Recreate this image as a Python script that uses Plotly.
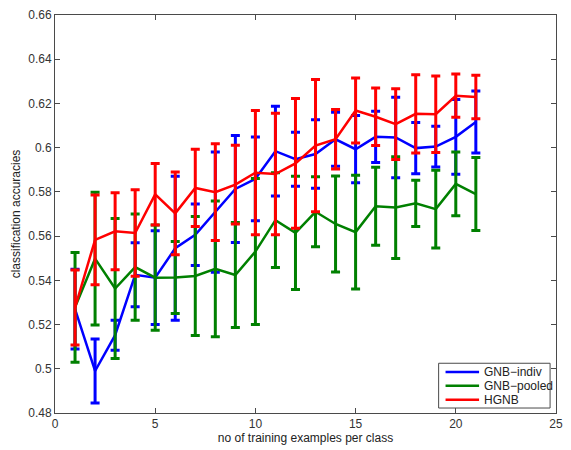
import plotly.graph_objects as go

# training examples per class
x_vals = list(range(1, 22))

# mean classification accuracy and standard deviation per method
gnb_indiv_mean = [0.527, 0.499, 0.5152, 0.5425, 0.5412, 0.5545, 0.5606, 0.5708, 0.5813, 0.5859, 0.5984,
                  0.5948, 0.5971, 0.6038, 0.5993, 0.6049, 0.6046, 0.5998, 0.6005, 0.6049, 0.6116]
gnb_indiv_std = [0.018, 0.0145, 0.0068, 0.0145, 0.0212, 0.0326, 0.0139, 0.0272, 0.0242, 0.0189, 0.0203,
                 0.0122, 0.0155, 0.0122, 0.0152, 0.0116, 0.0182, 0.0116, 0.0092, 0.0169, 0.014]

gnb_pooled_mean = [0.5278, 0.5498, 0.5363, 0.546, 0.5412, 0.5413, 0.542, 0.5452, 0.5424, 0.553, 0.5672,
                   0.5615, 0.571, 0.5655, 0.5618, 0.5735, 0.5729, 0.5748, 0.5722, 0.5836, 0.579]
gnb_pooled_std = [0.0248, 0.030, 0.0317, 0.024, 0.0238, 0.0163, 0.0269, 0.0307, 0.0237, 0.033, 0.0214,
                  0.0256, 0.0158, 0.0217, 0.0257, 0.0176, 0.023, 0.0105, 0.0176, 0.0144, 0.0165]

hgnb_mean = [0.5277, 0.5583, 0.5622, 0.5614, 0.5789, 0.5703, 0.5818, 0.5799, 0.5833, 0.5887, 0.5881,
             0.5929, 0.6009, 0.6038, 0.6168, 0.614, 0.6106, 0.6153, 0.6151, 0.6235, 0.6229]
hgnb_std = [0.017, 0.0203, 0.0174, 0.0196, 0.0139, 0.0187, 0.0175, 0.0219, 0.0178, 0.0281, 0.0275,
            0.0293, 0.0299, 0.0135, 0.0147, 0.013, 0.016, 0.0177, 0.0173, 0.0098, 0.0098]

x_ticks = [0, 5, 10, 15, 20, 25]
x_tick_labels = ["0", "5", "10", "15", "20", "25"]
y_ticks = [0.48, 0.50, 0.52, 0.54, 0.56, 0.58, 0.60, 0.62, 0.64, 0.66]
y_tick_labels = ["0.48", "0.5", "0.52", "0.54", "0.56", "0.58", "0.6", "0.62", "0.64", "0.66"]

series_names = ["GNB\u2212indiv", "GNB\u2212pooled", "HGNB"]
series_means = [gnb_indiv_mean, gnb_pooled_mean, hgnb_mean]
series_stds = [gnb_indiv_std, gnb_pooled_std, hgnb_std]
series_colors = ["#0000ff", "#008000", "#ff0000"]

FONT = "Liberation Sans, Arial, Helvetica, sans-serif"
AXIS_COLOR = "#4a4a4a"
FS = 12

# plot area in pixels, used to place the legend box in paper coordinates
W, H = 571, 450
ML, MR, MT, MB = 55, 8, 14, 36
PW, PH = W - ML - MR, H - MT - MB


def px_x(px):
    return (px - ML) / PW


def px_y(py):
    return (H - MB - py) / PH


fig = go.Figure()
for name, mean, std, color in zip(series_names, series_means, series_stds, series_colors):
    fig.add_trace(go.Scatter(
        x=x_vals, y=mean, name=name, mode="lines",
        line=dict(color=color, width=2.5),
        error_y=dict(type="data", array=std, visible=True,
                     color=color, thickness=3, width=4.5),
    ))

axis_common = dict(
    showline=True, linecolor=AXIS_COLOR, linewidth=1, mirror="ticks",
    ticks="inside", ticklen=5, tickcolor=AXIS_COLOR, tickwidth=1,
    showgrid=False, zeroline=False,
    tickfont=dict(family=FONT, size=FS, color="#333333"),
)

fig.update_xaxes(
    range=[0, 25], tickvals=x_ticks, ticktext=x_tick_labels,
    title=dict(text="no of training examples per class", standoff=2,
               font=dict(family=FONT, size=FS, color="#222222")),
    **axis_common,
)
fig.update_yaxes(
    range=[0.48, 0.66], tickvals=y_ticks, ticktext=y_tick_labels,
    title=dict(text="classification accuracies", standoff=5,
               font=dict(family=FONT, size=FS, color="#222222")),
    **axis_common,
)

# compact boxed legend in the lower-right corner
shapes = [dict(type="rect", xref="paper", yref="paper",
               x0=px_x(444), x1=px_x(557), y0=px_y(409), y1=px_y(364),
               line=dict(color=AXIS_COLOR, width=1), fillcolor="white", layer="above")]
annotations = []
row_y = [372.7, 386.7, 400.7]
for name, color, ry in zip(series_names, series_colors, row_y):
    shapes.append(dict(type="line", xref="paper", yref="paper",
                       x0=px_x(451), x1=px_x(485), y0=px_y(ry), y1=px_y(ry),
                       line=dict(color=color, width=2.5), layer="above"))
    annotations.append(dict(xref="paper", yref="paper", x=px_x(488), y=px_y(ry),
                            text=name, showarrow=False, xanchor="left", yanchor="middle",
                            font=dict(family=FONT, size=FS, color="#222222")))

fig.update_layout(
    width=W, height=H,
    margin=dict(l=ML, r=MR, t=MT, b=MB),
    paper_bgcolor="white", plot_bgcolor="white",
    font=dict(family=FONT, size=FS, color="#222222"),
    showlegend=False,
    shapes=shapes,
    annotations=annotations,
)

fig.write_html("out.html")
